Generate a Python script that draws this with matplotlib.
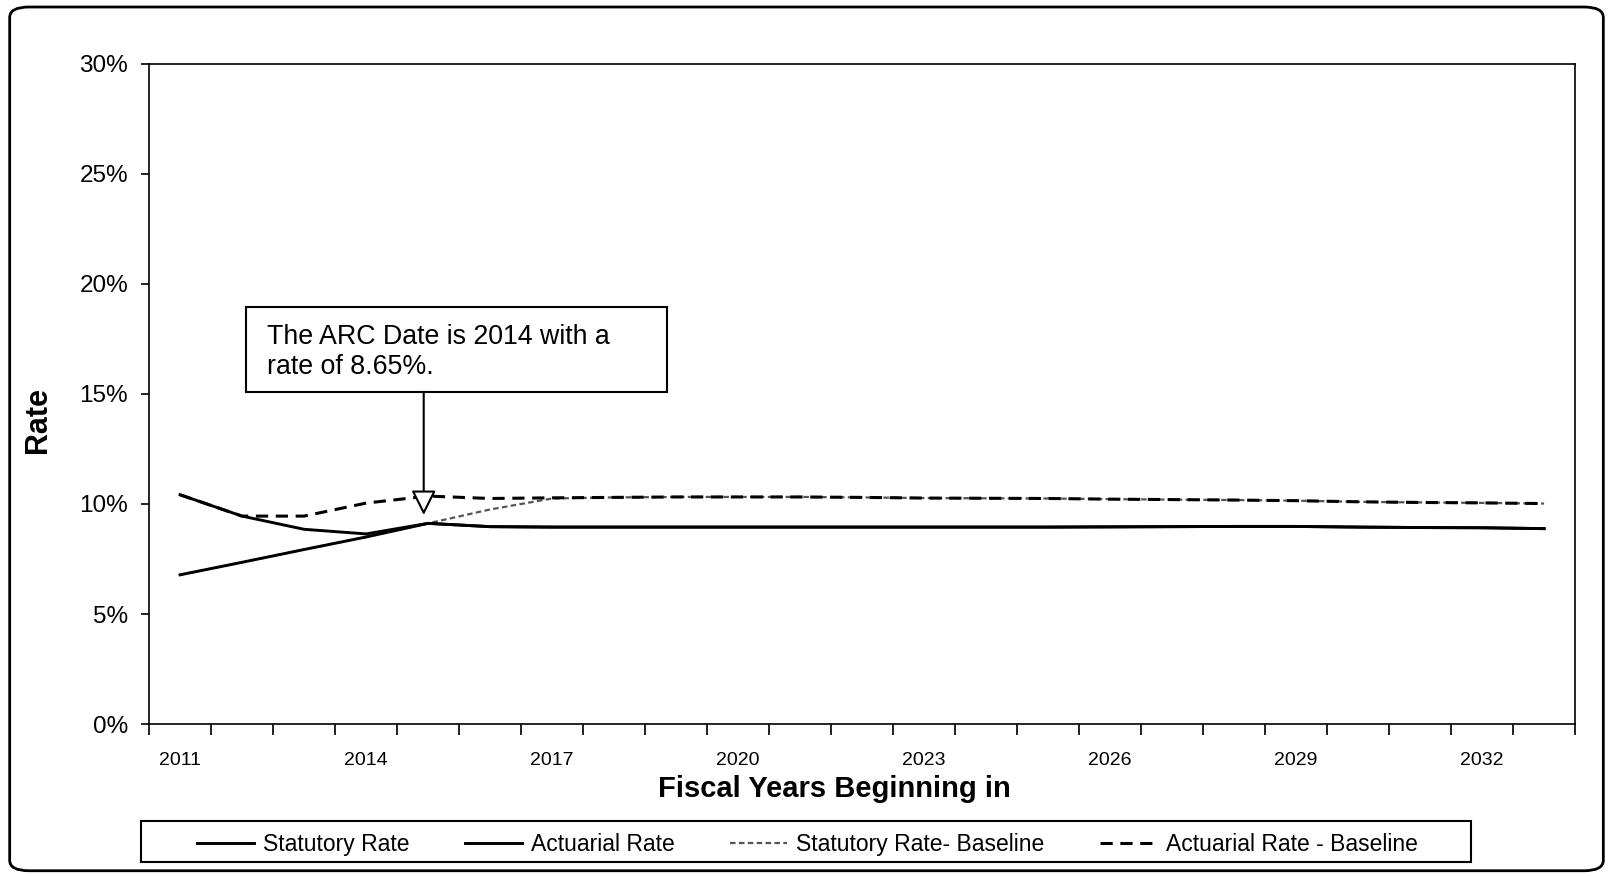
import matplotlib.pyplot as plt
from matplotlib.patches import FancyBboxPatch, Rectangle
from matplotlib.ticker import FixedLocator, PercentFormatter

plt.rcParams['font.family'] = ['Liberation Sans', 'DejaVu Sans']

# Fiscal years and rates (%)
years = list(range(2011, 2034))
statutory = [10.42, 9.45, 8.85, 8.64, 9.12, 8.97, 8.95, 8.95, 8.95, 8.95, 8.95, 8.95,
             8.95, 8.95, 8.95, 8.96, 8.97, 8.98, 8.98, 8.95, 8.93, 8.92, 8.88]
actuarial = [6.78, 7.35, 7.93, 8.50, 9.12, 8.97, 8.95, 8.95, 8.95, 8.95, 8.95, 8.95,
             8.95, 8.95, 8.95, 8.96, 8.97, 8.98, 8.98, 8.95, 8.93, 8.92, 8.88]
statutory_base = [6.78, 7.35, 7.93, 8.50, 9.12, 9.75, 10.25, 10.30, 10.32, 10.32, 10.32, 10.30,
                  10.27, 10.26, 10.25, 10.22, 10.20, 10.18, 10.15, 10.10, 10.07, 10.05, 10.02]
actuarial_base = [10.42, 9.45, 9.45, 10.04, 10.36, 10.25, 10.28, 10.30, 10.32, 10.32, 10.32, 10.30,
                  10.27, 10.26, 10.25, 10.22, 10.20, 10.18, 10.15, 10.10, 10.07, 10.05, 10.02]
label_years = years[::3]

fig = plt.figure(figsize=(16.13, 8.76), dpi=100)
ax = fig.add_axes([0.0924, 0.1735, 0.8841, 0.7535])

x = list(range(len(years)))
ax.plot(x, statutory_base, color='#555555', linestyle=(0, (2.5, 1.5)), linewidth=1.6,
        label='Statutory Rate- Baseline', zorder=1)
ax.plot(x, actuarial_base, color='black', linestyle=(0, (4, 2.5)), linewidth=2.2,
        label='Actuarial Rate - Baseline', zorder=2)
ax.plot(x, statutory, color='black', linewidth=2.1, label='Statutory Rate', zorder=2)
ax.plot(x, actuarial, color='black', linewidth=2.1, label='Actuarial Rate', zorder=2)

ax.set_xlim(-0.5, len(years) - 0.5)
ax.set_ylim(0, 30)
ax.yaxis.set_major_locator(FixedLocator([0, 5, 10, 15, 20, 25, 30]))
ax.yaxis.set_major_formatter(PercentFormatter(decimals=0))
ax.tick_params(axis='y', labelsize=17.5, length=6, width=1.2, pad=9)

# category boundaries as ticks, labels every 3 years
ax.set_xticks([i - 0.5 for i in range(len(years) + 1)])
ax.set_xticklabels([])
ax.set_xticks([years.index(y) for y in label_years], minor=True)
ax.set_xticklabels([str(y) for y in label_years], minor=True)
ax.tick_params(axis='x', which='major', length=8, width=1.2)
ax.tick_params(axis='x', which='minor', length=0, labelsize=14, pad=20)

for s in ax.spines.values():
    s.set_linewidth(1.2)

ax.set_ylabel('Rate', fontsize=22, fontweight='bold')
ax.yaxis.set_label_coords(-0.067, 0.46)
ax.set_xlabel('Fiscal Years Beginning in', fontsize=21, fontweight='bold')
ax.xaxis.set_label_coords(0.4805, -0.077)

# annotation box with arrow
ax.add_patch(Rectangle((1.06, 15.1), 6.8, 3.85, facecolor='white', edgecolor='black',
                       linewidth=1.5, zorder=4))
ax.text(1.4, 18.2, 'The ARC Date is 2014 with a\nrate of 8.65%.', fontsize=19.3,
        va='top', ha='left', linespacing=1.2, zorder=5)
ax.annotate('', xy=(3.93, 9.5), xytext=(3.93, 15.1),
            arrowprops=dict(arrowstyle='-|>', fc='white', ec='black', lw=1.5,
                            mutation_scale=38, shrinkA=0, shrinkB=0), zorder=5)

handles, labels = ax.get_legend_handles_labels()
order = [2, 3, 0, 1]
fig.legend([handles[i] for i in order], [labels[i] for i in order],
           loc='center', bbox_to_anchor=(0.5005, 0.0355), ncol=4, fontsize=16.5,
           frameon=False, handlelength=2.5, handletextpad=0.4, columnspacing=2.4)
fig.patches.append(Rectangle((141 / 1613, 1 - 862 / 876), 1330 / 1613, 41 / 876,
                             transform=fig.transFigure, fill=False,
                             edgecolor='black', linewidth=1.5))

# outer rounded frame
fig.patches.append(FancyBboxPatch((0.006, 0.006), 0.988, 0.986,
                                  boxstyle='round,pad=0,rounding_size=0.012',
                                  transform=fig.transFigure, fill=False,
                                  edgecolor='black', linewidth=2))

fig.savefig('out.png', dpi=100)
